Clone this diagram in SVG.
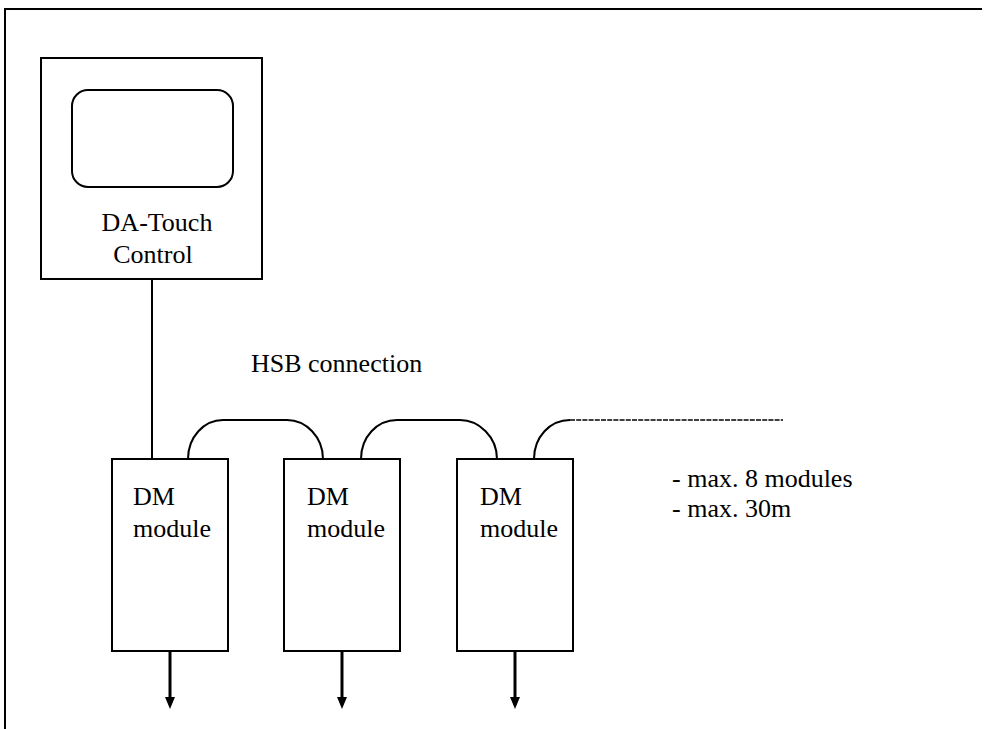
<svg xmlns="http://www.w3.org/2000/svg" width="991" height="729" viewBox="0 0 991 729">
<style>
.ln{fill:none;stroke:#000;stroke-width:2}
.arr{fill:none;stroke:#000;stroke-width:3}
.box{fill:#fff;stroke:#000;stroke-width:2}
text{font-family:'Liberation Serif','DejaVu Serif',serif;font-size:26px;fill:#000}
</style>
<rect width="991" height="729" fill="#fff"/>
<g id="frame">
<path class="ln" d="M5,729 L5,9 L982,9"/>
</g>
<g id="touch">
<rect class="box" x="41" y="58" width="221" height="221"/>
<rect class="box" x="72" y="90" width="161" height="97" rx="16"/>
<text x="157" y="231" text-anchor="middle" font-family="Liberation Serif, serif">DA-Touch</text>
<text x="153" y="263" text-anchor="middle" font-family="Liberation Serif, serif">Control</text>
</g>
<g id="dm1">
<rect class="box" x="112" y="459" width="116" height="192"/>
<text x="133" y="505" font-family="Liberation Serif, serif">DM</text>
<text x="133" y="537" font-family="Liberation Serif, serif">module</text>
</g>
<g id="dm2">
<rect class="box" x="284" y="459" width="116" height="192"/>
<text x="307" y="505" font-family="Liberation Serif, serif">DM</text>
<text x="307" y="537" font-family="Liberation Serif, serif">module</text>
</g>
<g id="dm3">
<rect class="box" x="457" y="459" width="116" height="192"/>
<text x="480" y="505" font-family="Liberation Serif, serif">DM</text>
<text x="480" y="537" font-family="Liberation Serif, serif">module</text>
</g>
<g id="labels">
<text x="251" y="372" font-family="Liberation Serif, serif">HSB connection</text>
<text x="672" y="487" font-family="Liberation Serif, serif">- max. 8 modules</text>
<text x="672" y="517" font-family="Liberation Serif, serif">- max. 30m</text>
</g>
<g id="connectors">
<path class="ln" d="M152,279 L152,459"/>
<path class="ln" d="M188,459 C188,437 204,420 223,420 L287,420 C306,420 323,437 323,459"/>
<path class="ln" d="M361,459 C361,437 377,420 397,420 L460,420 C479,420 497,437 497,459"/>
<path class="ln" d="M534,459 C534,437 550,420 570,420"/>
<path d="M570,420 L783,420" fill="none" stroke="#000" stroke-width="1.6" stroke-dasharray="5,1.2"/>
<path class="arr" d="M170,651 L170,698"/>
<path class="arr" d="M342,651 L342,698"/>
<path class="arr" d="M515,651 L515,698"/>
<path d="M165,697 L175,697 L170,709 Z"/>
<path d="M337,697 L347,697 L342,709 Z"/>
<path d="M510,697 L520,697 L515,709 Z"/>
</g>
</svg>
